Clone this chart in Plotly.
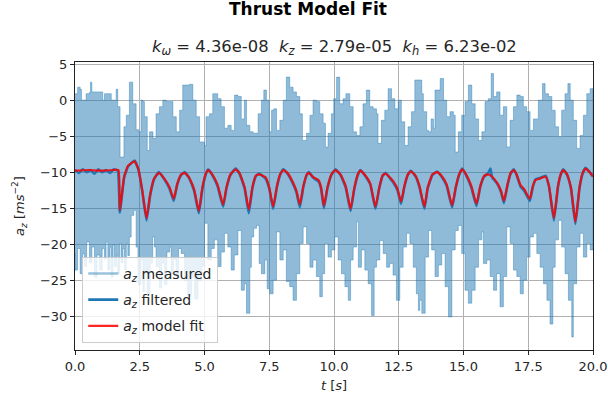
import plotly.graph_objects as go

# ---------------- data ----------------
upper_t = [0.0, 0.1, 0.2, 0.25, 0.43, 0.56, 0.6, 0.65, 1.0, 1.07, 1.14, 1.33, 1.4, 1.52, 1.59, 1.65,
           1.74, 1.89, 1.98, 2.1, 2.23, 2.36, 2.46, 2.55, 2.62, 2.68, 2.79, 2.88, 3.01, 3.13, 3.26,
           3.39, 3.52, 3.65, 3.78, 3.91, 4.04, 4.16, 4.42, 4.55, 4.68, 4.81, 5.0, 5.06, 5.19, 5.32,
           5.51, 5.64, 5.77, 5.9, 6.03, 6.16, 6.29, 6.42, 6.54, 6.62,
           6.75, 6.88, 7.07, 7.2, 7.29, 7.39, 7.5, 7.59, 7.68, 7.78, 7.91, 8.04, 8.16, 8.29, 8.42,
           8.55, 8.68, 8.78, 8.94, 9.07, 9.19, 9.32, 9.45, 9.58, 9.67, 9.77, 9.9, 9.99, 10.1, 10.22,
           10.35, 10.46, 10.61, 10.74, 10.87, 11.0, 11.12, 11.25, 11.38, 11.51, 11.64, 11.7, 11.83,
           11.96, 12.09, 12.22, 12.35, 12.48, 12.6, 12.73, 12.86, 12.99, 13.12, 13.31,
           13.39, 13.45, 13.58, 13.65, 13.75, 13.84, 13.9, 14.1, 14.23, 14.35, 14.48, 14.61, 14.68,
           14.8, 14.93, 15.06, 15.19, 15.32, 15.45, 15.58, 15.71, 15.83, 15.96, 16.07, 16.16, 16.28,
           16.41, 16.54, 16.67, 16.8, 16.93, 17.06, 17.19, 17.31, 17.44, 17.57, 17.7, 17.89, 18.05,
           18.15, 18.28, 18.41, 18.54, 18.67, 18.79, 18.92, 19.03, 19.12, 19.24, 19.37, 19.5, 19.63,
           19.76, 19.89, 20.0]
upper_v = [1.0, 1.9, 1.6, 0.1, 1.0, 1.2, 2.6, 1.25, 1.25, 0.1, 1.0, 1.0, 0.1, 0.1, 1.6, -0.8,
           -7.8, -3.6, -2.0, 2.6, -0.4, -4.0, -4.3, 0.1, -0.1, -2.2, -6.9, -4.3, -5.2, -1.8, -0.8,
           0.1, -0.1, -0.1, -2.2, -4.3, -1.3, 2.2, 2.3, 0.1, -2.2, -5.7, -6.2, -2.2, -1.8, 1.0,
           0.3, -0.8, -3.8, -3.4, -4.1, 0.8, 0.6, -2.5, 0.1, -3.4,
           -4.3, -4.5, -1.8, 0.1, 1.5, 0.1, -4.3, -1.3, -1.1, -4.1, -2.7, 0.1, 3.3, 1.9, 1.25,
           0.6, -1.8, -5.5, -4.5, -2.0, 0.1, -0.1, -1.8, -3.1, -6.4, -4.5, -1.8, 0.3, 3.3, -0.4,
           0.3, 1.0, -0.8, -4.3, -4.8, -3.6, -0.4, 1.5, -0.8, -1.1, -1.8, -5.9, -2.7,
           -1.3, 1.7, 0.3, -1.1, 0.1, -2.9, -6.2, -3.6, -1.5, 2.9, 2.9,
           1.0, -1.5, -4.1, -4.3, -2.5, -3.8, 1.5, 3.1, 0.1, -2.2, -1.5, -2.0, -7.1,
           -4.3, -2.0, -0.1, 2.2, -0.4, -2.5, -5.5, -4.3, -0.1, 0.3, 3.8, 0.6, 1.25,
           -2.0, -0.8, -6.4, -2.7, -0.8, 0.8, 0.6, -0.8, -1.5, -4.1, -2.5, 0.1, 2.4,
           1.0, 0.6, -1.3, -3.6, -5.0, -1.3, 1.0, 2.4, 0.1, -2.7, -6.6, -4.8, -2.0,
           1.0, 1.7, 0.6]

lower_t = [0.0, 0.1, 0.2, 0.3, 0.37, 0.45, 0.56, 0.65, 0.75, 0.85, 0.95, 1.05, 1.14, 1.2, 1.27,
           1.35, 1.4, 1.47, 1.52, 1.6, 1.65, 1.72, 1.78, 1.85, 1.91, 1.98, 2.04, 2.1, 2.17, 2.27,
           2.36, 2.43, 2.55, 2.62, 2.68, 2.78, 2.9, 3.0, 3.07, 3.13, 3.26, 3.35, 3.45, 3.55, 3.65,
           3.71, 3.8, 3.9, 4.0, 4.1, 4.23, 4.35, 4.5, 4.62, 4.75, 4.9, 5.0, 5.13, 5.26, 5.38, 5.51,
           5.64, 5.77, 5.9, 6.03, 6.15, 6.29, 6.42, 6.54, 6.62,
           6.75, 6.81, 6.9, 7.01, 7.11, 7.2, 7.33, 7.42, 7.52, 7.65, 7.78, 7.91, 8.04, 8.16, 8.29,
           8.42, 8.55, 8.68, 8.81, 8.94, 9.07, 9.19, 9.32, 9.45, 9.55, 9.64, 9.77, 9.9, 10.03,
           10.16, 10.29, 10.42, 10.55, 10.64, 10.74, 10.87, 10.94, 11.06, 11.19, 11.32, 11.45,
           11.55, 11.64, 11.77, 11.9, 12.03, 12.15, 12.28, 12.41, 12.54, 12.67, 12.8, 12.93, 13.06,
           13.18, 13.26, 13.31, 13.39, 13.52, 13.65, 13.77, 13.9, 14.03, 14.16, 14.29, 14.42, 14.55,
           14.68, 14.8, 14.93, 15.06, 15.19, 15.32, 15.45, 15.58, 15.71, 15.77, 15.9, 16.03, 16.16,
           16.28, 16.41, 16.54, 16.67, 16.8, 16.93, 17.06, 17.19, 17.31, 17.44, 17.57, 17.7, 17.83,
           17.96, 18.09, 18.22, 18.34, 18.45, 18.54, 18.67, 18.79, 18.92, 19.05, 19.18, 19.24,
           19.37, 19.5, 19.63, 19.76, 19.89, 20.0]
lower_v = [-21.2, -23.5, -20.5, -24.0, -21.2, -23.0, -19.6, -22.5, -20.3, -24.5, -21.4, -23.5,
           -20.5, -22.0, -19.6, -23.5, -20.3, -24.5, -20.0, -23.0, -21.4, -24.0, -19.8, -22.5,
           -20.5, -23.5, -19.8, -21.5, -18.9, -15.9, -15.2, -20.3, -25.5, -22.0, -26.5, -24.0,
           -26.8, -22.5, -18.9, -20.3, -23.0, -26.0, -22.5, -25.5, -21.0, -20.3, -24.0, -22.0,
           -24.5, -20.5, -21.2, -25.0, -27.0, -24.5, -27.5, -25.0, -23.0, -17.0, -22.1, -20.5,
           -19.3, -23.0, -21.0, -18.4, -20.3, -23.5, -21.4, -18.0, -26.3, -25.4,
           -29.5, -23.1, -18.9, -17.7, -17.3, -22.6, -24.0, -22.1, -26.1, -26.8, -24.9, -18.2,
           -22.1, -20.7, -25.1, -25.8, -27.7, -24.0, -19.8, -17.5, -19.8, -23.1, -22.1, -24.4,
           -27.2, -24.0, -19.8, -21.7, -20.7, -18.9, -22.1, -24.0, -25.8, -27.7, -22.1, -20.3,
           -16.8, -23.1, -20.7, -23.5, -25.4, -29.8, -23.1, -22.1, -19.4, -21.2, -23.1, -22.6,
           -24.2, -27.7, -23.1, -20.3, -18.4, -19.8, -23.1, -26.8, -29.1, -27.7, -29.5, -21.7,
           -18.0, -20.7, -24.4, -22.8, -21.2, -25.8, -30.0, -20.7, -18.0, -17.3, -21.2, -26.3,
           -28.1, -26.3, -23.1, -19.3, -18.2, -22.6, -22.1, -24.4, -26.3, -24.0, -28.6, -24.4,
           -17.5, -19.8, -23.5, -24.4, -26.8, -24.9, -21.7, -18.9, -18.4, -21.2, -23.1, -25.4,
           -27.7, -31.0, -23.1, -19.3, -16.6, -20.3, -24.0, -27.7, -32.8, -25.4, -20.3, -18.4,
           -21.7, -19.8, -20.7]

fit_t = [0.0, 0.5, 1.0, 1.5, 1.68, 1.73, 1.9, 2.05, 2.3, 2.45, 2.6, 2.76, 2.9, 3.05, 3.24, 3.45,
         3.65, 3.81, 3.95, 4.1, 4.23, 4.4, 4.6, 4.78, 4.92, 5.05, 5.14, 5.3, 5.5, 5.72, 5.85, 6.0,
         6.2, 6.35, 6.55, 6.71, 6.85, 6.98, 7.1, 7.36, 7.5, 7.65, 7.8, 7.92, 8.04, 8.2, 8.4, 8.55,
         8.68, 8.82, 8.95, 9.03, 9.2, 9.4, 9.5, 9.61, 9.75, 9.9, 10.06, 10.25, 10.45, 10.64, 10.78,
         10.92, 11.02, 11.2, 11.4, 11.6, 11.75, 11.88, 11.99, 12.15, 12.3, 12.45, 12.59, 12.72,
         12.85, 12.97, 13.15, 13.3, 13.49, 13.62, 13.8, 13.98, 14.15, 14.35, 14.56, 14.7, 14.83,
         14.95, 15.1, 15.3, 15.5, 15.65, 15.8, 15.94, 16.1, 16.3, 16.45, 16.56, 16.7, 16.82, 16.94,
         17.05, 17.2, 17.35, 17.56, 17.68, 17.78, 17.95, 18.17, 18.3, 18.49, 18.65, 18.75, 18.85,
         19.0, 19.15, 19.32, 19.48, 19.6, 19.71, 19.85, 20.0]
fit_v = [-9.7, -9.6, -9.7, -9.6, -9.6, -15.2, -10.5, -9.0, -8.4, -9.5, -12.5, -16.3, -13.0, -10.8,
         -10.0, -10.8, -12.0, -13.6, -11.5, -10.2, -10.0, -10.6, -12.3, -15.3, -12.0, -10.1, -9.6,
         -10.2, -11.6, -14.4, -12.0, -10.2, -9.5, -10.0, -12.0, -15.1, -12.0, -10.4, -10.2, -10.6,
         -12.0, -14.7, -11.8, -10.2, -9.6, -10.0, -11.2, -12.5, -14.4, -11.8, -10.2, -10.0, -10.6,
         -11.0, -12.0, -14.6, -12.0, -10.2, -9.6, -10.2, -11.8, -15.0, -12.2, -10.2, -9.7, -10.3,
         -11.5, -14.7, -12.0, -10.3, -10.1, -10.6, -11.2, -12.2, -14.0, -11.8, -10.2, -9.8, -10.4,
         -11.8, -14.7, -12.0, -10.2, -9.9, -10.4, -11.6, -14.5, -12.0, -10.2, -9.5, -10.2, -11.8,
         -14.3, -11.8, -10.4, -10.2, -10.5, -11.4, -12.5, -13.9, -11.6, -10.0, -9.6, -10.2, -11.7,
         -12.3, -13.6, -11.8, -11.0, -10.8, -10.5, -11.8, -16.3, -11.8, -10.2, -9.6, -10.2, -12.0,
         -16.8, -12.0, -10.0, -9.4, -9.8, -10.5]

filt_t = [0.0, 0.15, 0.3, 0.45, 0.6, 0.75, 0.9, 1.05, 1.2, 1.35, 1.5, 1.65, 1.73, 1.9, 2.05, 2.3,
          2.45, 2.6, 2.76, 2.9, 3.05, 3.24, 3.45, 3.65, 3.81, 3.95, 4.1, 4.23, 4.4, 4.6, 4.78, 4.92,
          5.05, 5.14, 5.3, 5.5, 5.72, 5.85, 6.0, 6.2, 6.35, 6.55, 6.71, 6.85, 6.98, 7.1, 7.36, 7.5,
          7.65, 7.8, 7.92, 8.04, 8.2, 8.4, 8.55, 8.68, 8.82, 8.95, 9.03, 9.2, 9.4, 9.5, 9.61, 9.75,
          9.9, 10.06, 10.25, 10.45, 10.64, 10.78, 10.92, 11.02, 11.2, 11.4, 11.6, 11.75, 11.88,
          11.99, 12.15, 12.3, 12.45, 12.59, 12.72, 12.85, 12.97, 13.15, 13.3, 13.49, 13.62, 13.8,
          13.98, 14.15, 14.35, 14.56, 14.7, 14.83, 14.95, 15.1, 15.3, 15.5, 15.65, 15.8, 15.94,
          16.04, 16.1, 16.3, 16.45, 16.56, 16.7, 16.82, 16.94, 17.05, 17.2, 17.35, 17.56, 17.68,
          17.78, 17.95, 18.17, 18.3, 18.49, 18.65, 18.75, 18.85, 19.0, 19.15, 19.32, 19.48, 19.6,
          19.71, 19.85, 20.0]
filt_v = [-9.6, -10.0, -9.5, -9.9, -9.6, -10.1, -9.5, -9.9, -9.6, -10.0, -9.5, -9.7, -15.5,
          -10.6, -9.1, -8.3, -9.6, -12.6, -16.6, -13.2, -10.9, -9.9, -10.9, -12.2, -13.9, -11.6,
          -10.3, -9.9, -10.7, -12.5, -15.6, -12.2, -10.2, -9.5, -10.3, -11.8, -14.7, -12.1,
          -10.3, -9.4, -10.1, -12.2, -15.6, -12.1, -10.5, -10.1, -10.8, -12.2, -15.0, -11.9,
          -10.3, -9.5, -10.1, -11.4, -12.7, -14.8, -11.9, -10.3, -9.9, -10.7, -11.2, -12.2,
          -14.9, -12.1, -10.3, -9.5, -10.3, -12.0, -15.3, -12.3, -10.3, -9.6, -10.4, -11.6,
          -15.0, -12.1, -10.4, -10.0, -10.7, -11.4, -12.4, -14.3, -11.9, -10.3, -9.7, -10.5,
          -12.0, -15.0, -12.1, -10.3, -9.8, -10.5, -11.8, -14.8, -12.1, -10.3, -9.4, -10.3,
          -12.0, -14.6, -11.9, -10.5, -10.1, -9.4, -10.6, -11.5, -12.7, -14.2, -11.7, -10.1,
          -9.5, -10.3, -11.9, -12.5, -13.9, -11.9, -10.9, -10.7, -10.4, -11.9, -16.6, -11.9,
          -10.3, -9.5, -10.3, -12.2, -17.1, -12.1, -10.1, -9.3, -9.8, -10.5]

x_ticks = [0, 2.5, 5, 7.5, 10, 12.5, 15, 17.5, 20]
y_ticks = [5, 0, -5, -10, -15, -20, -25, -30]

# ---------------- figure ----------------
FONT = "DejaVu Sans"
C0 = "#1f77b4"
MEAS = "rgba(31,119,180,0.5)"

fig = go.Figure()

# measured signal drawn as the band between its upper and lower envelopes
fig.add_trace(go.Scatter(
    x=upper_t + lower_t[::-1], y=upper_v + lower_v[::-1],
    mode="lines", fill="toself", fillcolor=MEAS, line_shape="hv",
    line=dict(color=MEAS, width=0.8), showlegend=False, hoverinfo="skip",
    legendgroup="m"))
fig.add_trace(go.Scatter(
    x=[None], y=[None], mode="lines", line=dict(color="rgba(31,119,180,0.45)", width=2.5),
    name="<i>a<sub>z</sub></i> measured", legendgroup="m"))
fig.add_trace(go.Scatter(
    x=filt_t, y=filt_v, mode="lines", line=dict(color=C0, width=2.6, shape="spline", smoothing=0.4),
    name="<i>a<sub>z</sub></i> filtered", legendgroup="f"))
fig.add_trace(go.Scatter(
    x=fit_t, y=fit_v, mode="lines",
    line=dict(color="rgba(255,0,0,0.85)", width=2.2, shape="spline", smoothing=0.4),
    name="<i>a<sub>z</sub></i> model fit", legendgroup="r"))

axis_common = dict(
    showline=True, linecolor="#222222", linewidth=1, mirror=True,
    showgrid=True, gridcolor="#b0b0b0", gridwidth=1,
    ticks="outside", ticklen=4, tickcolor="#222222", tickwidth=1,
    zeroline=False, automargin=False, tickfont=dict(family=FONT, size=13, color="#262626"),
)

fig.update_xaxes(range=[0, 20], tickvals=x_ticks, tickformat=".1f",
                 title=dict(text="<i>t</i> [<i>s</i>]", font=dict(family=FONT, size=13, color="#262626"),
                            standoff=8),
                 **axis_common)
fig.update_yaxes(range=[-34.6, 5.4], tickvals=y_ticks,
                 title=dict(text="<i>a<sub>z</sub></i> [<i>ms</i><sup>−2</sup>]",
                            font=dict(family=FONT, size=13, color="#262626"), standoff=12),
                 **axis_common)

fig.update_layout(
    width=608, height=406,
    margin=dict(l=74.5, r=15, t=62, b=56),
    paper_bgcolor="white", plot_bgcolor="white",
    font=dict(family=FONT, size=13, color="#262626"),
    title=dict(text="<b>Thrust Model Fit</b>", xref="container", x=308 / 608,
               y=1 - 9 / 406, yanchor="middle", xanchor="center",
               font=dict(family=FONT, size=17, color="black")),
    annotations=[dict(
        text="<i>k<sub>ω</sub></i> = 4.36e-08  <i>k<sub>z</sub></i> = 2.79e-05  <i>k<sub>h</sub></i> = 6.23e-02",
        xref="paper", yref="paper", x=0.5, y=1 + 15 / 288, xanchor="center", yanchor="middle",
        showarrow=False, font=dict(family=FONT, size=16.4, color="#262626"))],
    legend=dict(x=0.014, y=0.025, xanchor="left", yanchor="bottom",
                bgcolor="rgba(255,255,255,0.8)", bordercolor="#cccccc", borderwidth=1,
                font=dict(family=FONT, size=14, color="#262626"),
                traceorder="grouped", tracegroupgap=5),
    showlegend=True,
)

fig.write_html("out.html")
